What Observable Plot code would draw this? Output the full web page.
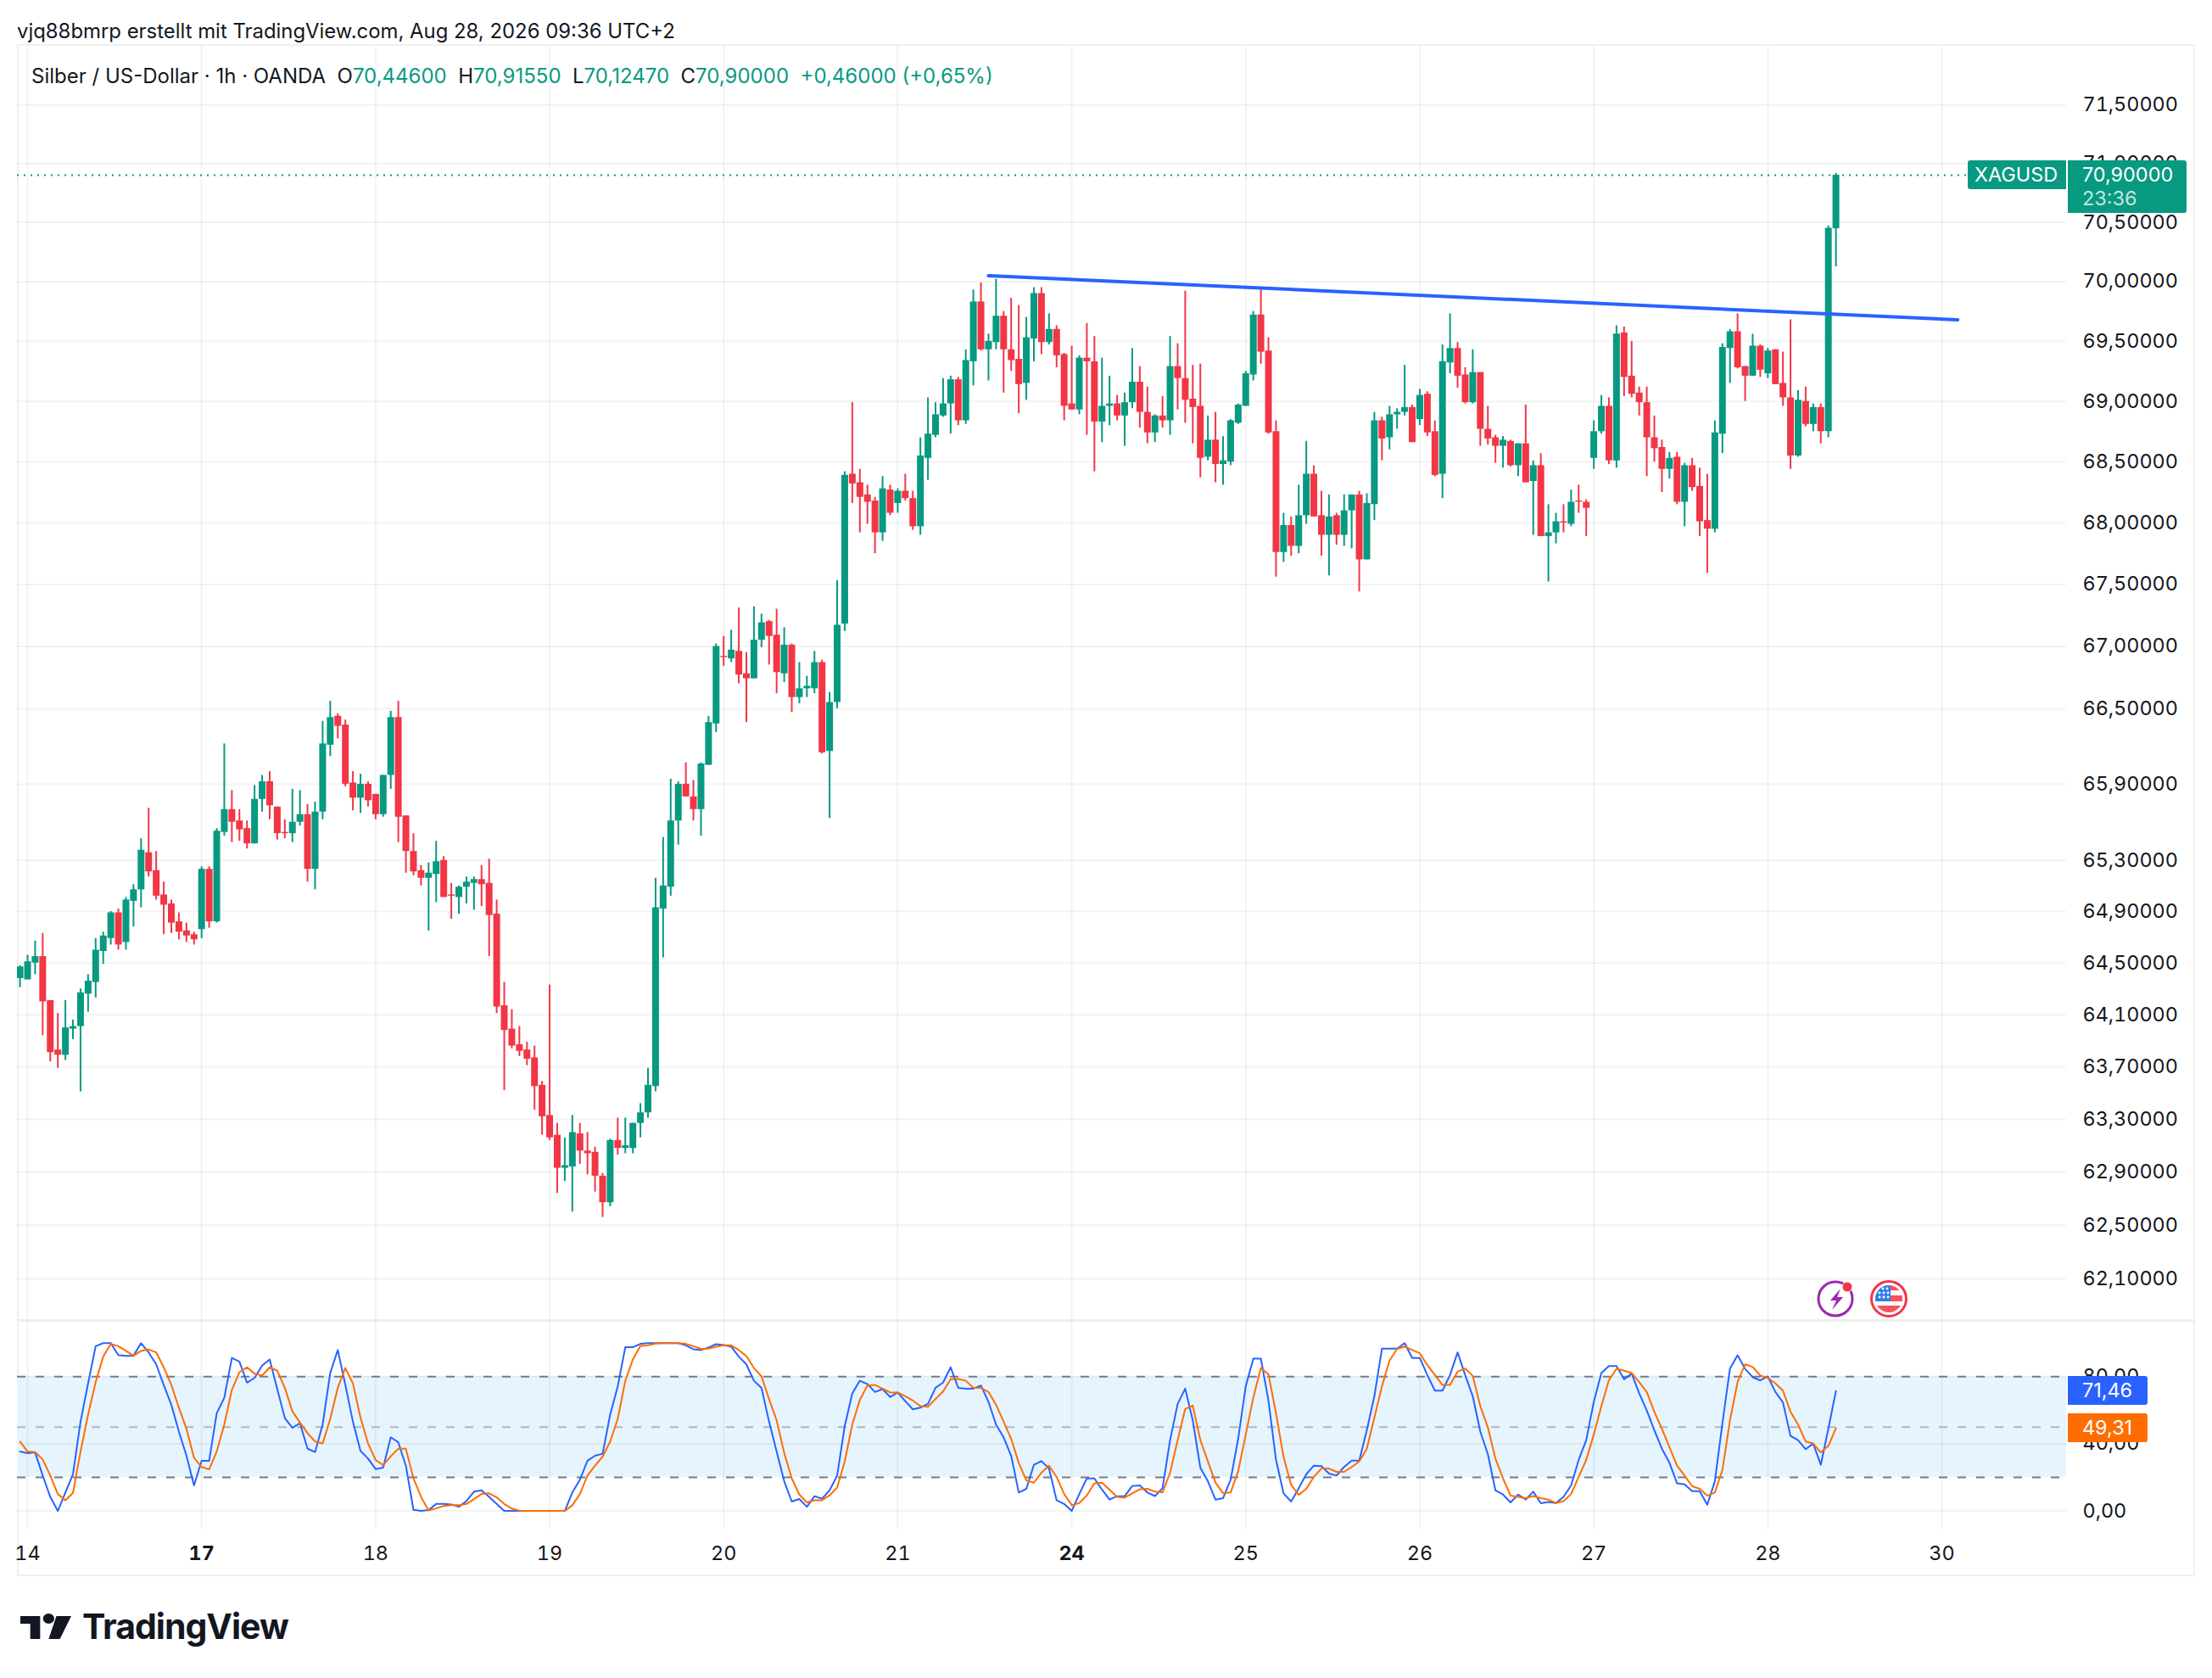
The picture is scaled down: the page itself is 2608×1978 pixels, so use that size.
<!DOCTYPE html>
<html><head><meta charset="utf-8">
<script src="https://cdn.jsdelivr.net/npm/d3@7"></script>
<script src="https://cdn.jsdelivr.net/npm/@observablehq/plot@0.6"></script>
<style>
html,body{margin:0;padding:0;background:#fff;}
#root{position:relative;width:2608px;height:1978px;overflow:hidden;font-family:Inter,"Noto Sans",sans-serif;color:#131722;}
#root>*{position:absolute;}
.t{white-space:pre;line-height:1;}
.g{color:#089981;}
.tag{display:flex;flex-direction:column;justify-content:center;box-sizing:border-box;color:#fff;font-size:23.4px;}
</style></head><body><div id="root"></div>
<script>
const opens=[64.38,64.37,64.50,64.55,64.21,63.83,63.79,63.99,64.01,64.26,
64.35,64.59,64.69,64.89,64.66,64.98,65.07,65.36,65.22,65.03,
64.96,64.82,64.75,64.72,64.76,65.23,64.82,65.52,65.70,65.61,
65.55,65.43,65.78,65.92,65.72,65.52,65.51,65.60,65.66,65.23,
65.68,66.21,66.44,66.37,65.91,65.79,65.90,65.82,65.66,65.97,
66.43,65.65,65.37,65.22,65.16,65.19,65.30,65.03,65.01,65.09,
65.12,65.15,65.12,64.88,64.17,63.99,63.87,63.83,63.77,63.56,
63.33,63.18,62.93,62.94,63.19,63.06,63.05,62.87,62.67,63.14,
63.08,63.08,63.27,63.35,63.55,64.92,65.09,65.61,65.90,65.80,
65.70,66.05,66.38,66.92,66.90,66.96,66.78,66.74,67.05,67.20,
67.09,66.78,67.01,66.59,66.66,66.66,66.87,66.16,66.55,67.18,
68.40,68.33,68.23,68.18,67.92,68.27,68.16,68.26,68.20,67.97,
68.53,68.72,68.88,68.98,69.18,68.84,69.33,69.83,69.43,69.49,
69.71,69.43,69.35,69.15,69.52,69.90,69.49,69.60,69.39,68.98,
68.93,69.36,69.33,68.83,68.96,68.98,68.88,68.99,69.16,68.91,
68.74,68.88,68.84,69.29,69.19,69.02,68.96,68.54,68.68,68.48,
68.50,68.82,68.96,69.22,69.72,69.42,68.75,67.76,67.98,67.81,
68.06,68.40,68.06,67.90,68.06,67.90,68.10,68.23,67.70,68.15,
68.84,68.70,68.89,68.91,68.95,68.85,69.06,68.75,68.40,69.32,
69.44,69.22,68.99,69.24,68.77,68.70,68.63,68.67,68.47,68.65,
68.34,68.47,67.89,67.92,68.01,67.99,68.18,68.17,68.53,68.75,
68.96,68.51,69.57,69.21,69.07,68.99,68.70,68.62,68.44,68.54,
68.17,68.47,68.30,68.02,67.95,68.73,69.44,69.58,69.29,69.21,
69.46,69.23,69.43,69.15,69.03,68.55,69.00,68.81,68.95,68.75,
70.446];
const highs=[64.48,64.56,64.67,64.73,64.21,64.11,64.21,64.06,64.30,64.41,
64.69,64.74,64.90,64.92,65.01,65.11,65.47,65.71,65.37,65.13,
64.99,64.89,64.81,64.74,65.25,65.25,65.55,66.22,65.85,65.70,
65.61,65.89,65.97,66.00,65.72,65.62,65.86,65.85,65.74,65.76,
66.40,66.56,66.46,66.41,66.00,65.98,65.92,65.82,65.97,66.48,
66.56,65.65,65.51,65.26,65.28,65.45,65.33,65.12,65.10,65.17,
65.17,65.26,65.31,64.99,64.35,64.14,64.01,63.89,63.86,63.59,
64.33,63.27,63.16,63.33,63.27,63.20,63.09,62.89,63.15,63.31,
63.31,63.27,63.42,63.69,65.16,65.48,65.94,65.92,66.07,65.93,
66.07,66.44,67.02,67.08,67.13,67.31,66.95,67.32,67.26,67.21,
67.30,67.15,67.02,66.87,66.76,66.96,66.89,66.63,67.53,68.42,
68.99,68.44,68.31,68.21,68.38,68.31,68.28,68.40,68.26,68.70,
69.03,68.99,69.19,69.21,69.20,69.43,69.93,69.99,69.56,70.02,
69.75,69.86,69.80,69.70,69.95,69.95,69.73,69.63,69.40,69.46,
69.38,69.65,69.54,69.36,69.21,69.05,69.07,69.44,69.29,69.12,
68.89,69.04,69.54,69.48,69.92,69.30,69.31,68.88,68.91,68.71,
68.85,68.98,69.25,69.75,69.95,69.53,68.84,68.08,68.05,68.31,
68.67,68.47,68.26,68.23,68.08,68.23,68.23,68.26,68.24,68.91,
68.87,68.96,68.94,69.30,68.97,69.10,69.08,68.84,69.47,69.73,
69.49,69.28,69.43,69.24,68.96,68.72,68.71,68.68,68.65,68.97,
68.51,68.57,68.15,68.08,68.15,68.27,68.31,68.19,68.84,69.05,
69.03,69.63,69.62,69.50,69.12,69.12,68.88,68.68,68.58,68.58,
68.49,68.53,68.45,68.40,68.84,69.48,69.60,69.73,69.29,69.56,
69.47,69.44,69.43,69.41,69.68,69.09,69.12,68.98,68.98,70.47,
70.9155];
const lows=[64.31,64.37,64.41,63.94,63.74,63.69,63.75,63.91,63.51,64.12,
64.23,64.49,64.64,64.60,64.60,64.78,64.93,65.17,64.99,64.72,
64.73,64.68,64.66,64.64,64.69,64.77,64.81,65.49,65.44,65.45,
65.39,65.43,65.68,65.62,65.46,65.47,65.44,65.57,65.13,65.07,
65.62,66.12,66.26,65.88,65.69,65.67,65.72,65.62,65.64,65.86,
65.44,65.20,65.18,65.10,64.75,64.97,65.01,64.84,64.88,64.96,
64.91,64.94,64.55,64.11,63.52,63.84,63.78,63.71,63.37,63.18,
63.14,62.74,62.83,62.60,62.96,62.88,62.75,62.56,62.64,63.03,
63.04,63.04,63.16,63.31,63.51,64.54,65.02,65.42,65.80,65.61,
65.49,66.05,66.31,66.84,66.87,66.70,66.39,66.74,66.99,66.85,
66.62,66.71,66.47,66.54,66.59,66.62,66.14,65.63,66.50,67.12,
68.16,67.92,67.99,67.75,67.85,68.06,68.08,68.18,67.94,67.90,
68.35,68.70,68.87,68.73,68.80,68.81,69.13,69.42,69.17,69.43,
69.07,69.25,68.90,69.01,69.33,69.39,69.47,69.28,68.84,68.93,
68.89,68.72,68.42,68.66,68.80,68.84,68.63,68.94,68.78,68.65,
68.66,68.78,68.72,68.93,68.82,68.65,68.37,68.51,68.33,68.31,
68.47,68.81,68.96,69.17,69.31,68.73,67.56,67.68,67.73,67.75,
67.99,68.05,67.73,67.57,67.82,67.81,67.79,67.44,67.70,68.02,
68.51,68.60,68.77,68.88,68.66,68.80,68.71,68.38,68.20,69.23,
69.11,68.98,68.98,68.63,68.64,68.49,68.45,68.46,68.38,68.33,
67.90,67.89,67.52,67.83,67.92,67.97,68.08,67.89,68.44,68.73,
68.48,68.45,69.04,69.03,68.88,68.38,68.50,68.25,68.36,68.15,
67.97,68.26,67.89,67.59,67.92,68.57,69.15,69.27,69.00,69.21,
69.20,69.19,69.14,68.96,68.44,68.54,68.79,68.75,68.65,68.70,
70.1247];
const closes=[64.47,64.51,64.55,64.20,63.81,63.79,64.00,64.01,64.27,64.36,
64.60,64.71,64.89,64.64,64.99,65.07,65.38,65.21,65.02,64.95,
64.81,64.74,64.71,64.68,65.23,64.82,65.53,65.70,65.60,65.54,
65.43,65.78,65.92,65.73,65.51,65.51,65.60,65.66,65.23,65.68,
66.22,66.43,66.36,65.90,65.79,65.90,65.77,65.66,65.97,66.43,
65.64,65.37,65.21,65.16,65.20,65.29,65.01,65.02,65.09,65.13,
65.15,65.11,64.87,64.16,63.98,63.86,63.82,63.76,63.55,63.32,
63.16,62.93,62.95,63.20,63.06,63.04,62.87,62.67,63.14,63.08,
63.10,63.27,63.35,63.56,64.93,65.10,65.61,65.90,65.80,65.70,
66.06,66.39,67.00,66.91,66.97,66.77,66.74,67.05,67.19,67.08,
66.79,67.01,66.59,66.66,66.68,66.87,66.15,66.55,67.17,68.39,
68.32,68.21,68.17,67.92,68.28,68.08,68.26,68.20,67.97,68.55,
68.73,68.89,68.98,69.18,68.84,69.34,69.83,69.43,69.50,69.71,
69.43,69.34,69.14,69.53,69.90,69.49,69.60,69.38,68.96,68.93,
69.36,69.33,68.83,68.96,68.98,68.88,68.99,69.16,68.91,68.74,
68.88,68.84,69.29,69.19,69.01,68.95,68.53,68.68,68.48,68.51,
68.84,68.97,69.23,69.72,69.41,68.74,67.76,67.98,67.81,68.06,
68.40,68.05,67.90,68.05,67.90,68.10,68.23,67.70,68.16,68.84,
68.69,68.89,68.91,68.95,68.66,69.05,68.74,68.39,69.33,69.44,
69.21,68.99,69.24,68.77,68.69,68.63,68.68,68.47,68.65,68.33,
68.47,67.89,67.92,68.01,68.00,68.17,68.17,68.12,68.75,68.96,
68.51,69.56,69.20,69.06,68.99,68.70,68.61,68.44,68.53,68.17,
68.47,68.29,68.01,67.95,68.74,69.45,69.58,69.28,69.21,69.46,
69.26,69.42,69.14,69.03,68.55,69.01,68.81,68.95,68.75,70.45,
70.90];
const stochK=[35.4,34.4,34.9,21.1,8.4,0,11,21.9,53.2,76,
98.2,100,100,92.8,92.5,92.5,100,94.5,87.4,75.1,
63.3,47.3,32.9,15.2,29.9,29.9,58.2,67.5,91.2,89,
76.5,79.3,86.6,90.3,72.6,55.4,49.5,52.3,37.1,35.1,
51.5,82.2,95.9,75.1,53.2,35.8,31.2,25,25.8,43.9,
40.9,27,0.7,0,0.5,4.2,4.2,3.9,2.5,5.9,
11.5,12.3,8.4,4.2,0,0,0,0,0,0,
0,0,0,11,18.6,29.9,32.9,34.1,57.4,74.3,
97.6,97.6,99.6,100,100,100,100,100,98.7,96.4,
95.9,97.4,99.4,98.9,97.9,92,87.4,77.6,73.4,53.2,
35.4,17.7,5.6,7.1,2.5,8.8,7.3,12.3,21.1,50.6,
70.1,77.6,75.6,70.9,72.6,67.9,70.6,65.5,60.6,61.6,
63.8,73.4,76.5,85.6,73.4,72.9,72.9,74.8,65,51.5,
43.9,32.9,11,13.2,27.5,29.7,25.3,6.4,4.2,0,
10.1,19.4,19.4,12.7,6.8,8.8,8.8,14.9,15.2,11,
8.9,13.5,42.2,63.8,72.9,54,25.7,17.7,6.8,7.6,
18.6,43,74.3,90.8,90.8,65.8,30.4,10.5,5.6,13.5,
21.9,27,26.7,22.3,21.1,26.2,30,30,48.1,68.4,
96.7,96.7,96.7,100,91.2,91.2,81,71.7,71.7,81,
94.5,81,68.4,47.3,33.8,12.3,9.8,5.1,9.8,6.8,
11.5,4.6,5.4,4.7,8.4,15.2,30.4,42.2,65,82.2,
86.4,86.4,78.5,81.9,70.1,59.9,48.1,37.1,28.7,16.5,
15.9,11.8,11.8,3.7,17.7,52.3,84.9,92.8,84.7,79.7,
77.8,80.2,70.9,64.7,44.7,42.2,36.8,40.2,27.5,49,
71.46];
const stochD=[41.4,35.4,35.1,30.7,21.1,10.1,6.4,10.8,35.4,57.4,
76.8,92,99.6,98.2,95.4,92.5,95.4,96.2,94.5,85.6,
75.1,61.6,49,31.7,26.2,24.8,35.4,51.5,72.2,82.7,
85.6,81.9,80.7,85.6,83.6,73.4,59.4,52.7,46.4,41.4,
40.2,54.9,73.4,85.2,76,55.7,40.2,30.4,27.3,32.6,
37.1,37.1,19.4,8.4,0.3,1.5,3,3.5,3.4,4.2,
7.1,10.1,10.5,8.1,4.2,1.4,0.2,0,0,0,
0,0,0,3.4,10.1,21.1,27,32.4,41.4,54.9,
77.6,90.3,98.4,98.7,99.8,100,100,100,99.6,98.2,
96.6,96.7,97.9,98.7,98.7,95.9,92.3,85.2,80.2,66.7,
54,34.6,19.4,9.8,5.1,6.4,6.4,9.3,14,29.5,
51.5,66.2,74.8,75.1,72.9,70.6,70.6,68.4,65.8,62.5,
62.1,66.7,71.2,78.5,78.7,77.6,73.4,73.4,70.9,63.3,
53.2,43,28.7,18.2,16.9,22.8,27,20.3,10.1,3.5,
4.7,9.3,16.5,16.9,12.7,8.4,7.9,10.5,13,13.2,
11.5,11,22.8,42.2,60.8,62.8,42.2,29.5,16.9,10.6,
11,23.6,45.6,67.5,85.2,81.5,58.2,32.1,15.5,9.6,
13.2,20.3,25.3,25.3,23.3,23.3,26.2,29.5,37.1,55.7,
74.3,89.5,96.6,97.9,95.9,94,86.9,81,75.1,75.1,
83,84.9,80.5,62.5,49.8,31.2,19.4,9.1,8.4,7.6,
8.9,7.6,6.8,4.7,5.9,10.1,20.3,30.4,45.6,62.5,
78,84.7,83.6,82.2,76.8,70.9,59.1,49,38,27,
21.1,14.7,13.2,9.1,11,24.5,54,76.8,87.4,85.8,
80.7,79.3,76,71.7,59.1,51.5,41.4,40.2,34.9,38.8,
49.31];
const priceTicks=[71.5,71,70.5,70,69.5,69,68.5,68,67.5,67,66.5,65.9,65.3,64.9,64.5,64.1,63.7,63.3,62.9,62.5,62.1];
const oscTicks=[0,40,80];
const dayBars=[1,24,47,70,93,116,139,162,185,208,231,254];
const dayNames=["14","17","18","19","20","21","24","25","26","27","28","30"];
const boldDays=["17","24"];
const trendBars=[128,256.1], trendPrices=[70.05,69.68];
const lastPrice=70.9;
const oscBands=[20,50,80];

const UP="#089981",DOWN="#f23645",INK="#131722",GRID="#2a2e39";
const FONT='Inter,"Noto Sans",sans-serif';
const bars=opens.map((o,i)=>({i,o,h:highs[i],l:lows[i],c:closes[i],col:closes[i]>=o?UP:DOWN}));
const osc=stochK.map((k,i)=>({i,k,d:stochD[i]}));
const trend=trendBars.map((b,i)=>({b,p:trendPrices[i]}));
const xDomain=[-0.345,270.48];
const comma=(v,n)=>v.toFixed(n).replace(".",",");
const dayLabel=b=>dayNames[dayBars.indexOf(b)];
const root=document.getElementById("root");

function add(html,css){const e=document.createElement("div");e.className="t";e.innerHTML=html;e.style.cssText=css;root.appendChild(e);return e;}
function place(node,top){node.style.position="absolute";node.style.left="0";node.style.top=top+"px";root.appendChild(node);}

// frame
add("","left:20px;top:52px;width:2568px;height:1806px;box-sizing:border-box;border:2px solid #f0f0f0;");
add("","left:20px;top:1555px;width:2568px;height:3px;background:#eeeeee;");

const main=Plot.plot({
  width:2608,height:1502,marginLeft:20,marginRight:172,marginTop:0,marginBottom:0,
  style:{background:"transparent",fontFamily:FONT,overflow:"visible"},
  x:{domain:xDomain,axis:null},
  y:{type:"log",domain:[61.79,72.007],axis:null},
  marks:[
    Plot.gridY(priceTicks,{stroke:GRID,strokeOpacity:0.06,strokeWidth:2}),
    Plot.gridX(dayBars,{stroke:GRID,strokeOpacity:0.06,strokeWidth:2}),
    Plot.ruleY([lastPrice],{stroke:UP,strokeWidth:2,strokeDasharray:"2 6"}),
    Plot.ruleX(bars,{x:"i",y1:"l",y2:"h",stroke:"col",strokeWidth:2,clip:true}),
    Plot.ruleX(bars,{x:"i",y1:"o",y2:"c",stroke:"col",strokeWidth:8,clip:true}),
    Plot.line(trend,{x:"b",y:"p",stroke:"#2962ff",strokeWidth:4}),
    Plot.axisY({anchor:"right",ticks:priceTicks,tickSize:0,tickPadding:19,label:null,
      tickFormat:v=>comma(v,5),fontSize:23.4,fill:INK})
  ]
});
place(main,54);

const lower=Plot.plot({
  width:2608,height:302,marginLeft:20,marginRight:172,marginTop:0,marginBottom:56,
  style:{background:"transparent",fontFamily:FONT,overflow:"visible"},
  x:{domain:xDomain,axis:null},
  y:{domain:[-10.82,113.55],axis:null},
  marks:[
    Plot.rectY([0],{x1:xDomain[0],x2:xDomain[1],y1:oscBands[0],y2:oscBands[2],fill:"#e6f4fe"}),
    Plot.gridY(oscTicks,{stroke:GRID,strokeOpacity:0.06,strokeWidth:2}),
    Plot.gridX(dayBars,{stroke:GRID,strokeOpacity:0.06,strokeWidth:2}),
    Plot.ruleY([oscBands[0],oscBands[2]],{stroke:"#787b86",strokeWidth:2,strokeDasharray:"10 12"}),
    Plot.ruleY([oscBands[1]],{stroke:"#b2b5be",strokeWidth:2,strokeDasharray:"10 12"}),
    Plot.line(osc,{x:"i",y:"k",stroke:"#2962ff",strokeWidth:2,clip:true}),
    Plot.line(osc,{x:"i",y:"d",stroke:"#ff6d00",strokeWidth:2,clip:true}),
    Plot.axisY({anchor:"right",ticks:oscTicks,tickSize:0,tickPadding:19,label:null,
      tickFormat:v=>comma(v,2),fontSize:23.4,fill:INK}),
    Plot.axisX({anchor:"bottom",ticks:dayBars.filter(b=>!boldDays.includes(dayLabel(b))),tickSize:0,tickPadding:20,label:null,
      tickFormat:dayLabel,fontSize:23.4,fill:INK}),
    Plot.axisX({anchor:"bottom",ticks:dayBars.filter(b=>boldDays.includes(dayLabel(b))),tickSize:0,tickPadding:20,label:null,
      tickFormat:dayLabel,fontSize:23.4,fontWeight:700,fill:INK})
  ]
});
place(lower,1556);

// header and legend
add("vjq88bmrp erstellt mit TradingView.com, Aug 28, 2026 09:36 UTC+2","left:20px;top:25px;font-size:23.9px;");
add('Silber / US-Dollar · 1h · OANDA  O<span class="g">70,44600</span>  H<span class="g">70,91550</span>  L<span class="g">70,12470</span>  C<span class="g">70,90000</span>  <span class="g">+0,46000 (+0,65%)</span>',"left:37px;top:78px;font-size:24px;");

// price tags
const tag=(html,css)=>{const e=add(html,css);e.classList.add("tag");return e;};
tag("XAGUSD",`left:2320px;top:189px;width:116px;height:34px;background:${UP};border-radius:3px 0 0 3px;padding-left:8px;`);
tag('<div style="line-height:28px">70,90000</div><div style="line-height:28px;color:#c3e6df">23:36</div>',`left:2438px;top:189px;width:140px;height:62px;background:${UP};border-radius:0 3px 3px 0;padding-left:17px;`);
tag("71,46","left:2438px;top:1622px;width:94px;height:34px;background:#2962ff;border-radius:0 3px 3px 0;padding-left:17px;");
tag("49,31","left:2438px;top:1666px;width:94px;height:34px;background:#ff6d00;border-radius:0 3px 3px 0;padding-left:17px;");

// event icons
add(`<svg width="120" height="60" viewBox="0 0 120 60" style="display:block">
<circle cx="30" cy="30" r="20" fill="#fff" stroke="#9c27b0" stroke-width="3"/>
<path d="M36 18 L24 32 H31 L26 43 L39 28 H32 Z" fill="#9c27b0"/>
<circle cx="44" cy="16" r="6" fill="#f23645" stroke="#fff" stroke-width="1"/>
<circle cx="93" cy="30" r="20.5" fill="#fff" stroke="#f23645" stroke-width="3"/>
<clipPath id="fc"><circle cx="93" cy="30" r="16"/></clipPath>
<g clip-path="url(#fc)">
<rect x="76" y="14" width="36" height="6" fill="#f7525f"/><rect x="76" y="26" width="36" height="7" fill="#f7525f"/>
<rect x="76" y="38" width="36" height="9" fill="#f7525f"/>
<rect x="76" y="14" width="19" height="19" fill="#2f80ed"/>
<g fill="#fff"><circle cx="86" cy="18" r="1.4"/><circle cx="91" cy="18" r="1.4"/><circle cx="82" cy="23" r="1.4"/><circle cx="87" cy="23" r="1.4"/><circle cx="92" cy="23" r="1.4"/><circle cx="82" cy="28" r="1.4"/><circle cx="87" cy="28" r="1.4"/><circle cx="92" cy="28" r="1.4"/></g>
</g></svg>`,"left:2134px;top:1501px;");

// logo
add(`<svg width="60" height="30" viewBox="0 4 36 20" preserveAspectRatio="none" style="display:block"><path d="M14 6H0v6h7v12h7V6zm14 18h-8l5.5-18H36l-8 18z" fill="#131722"/><circle cx="20" cy="8" r="4" fill="#131722"/></svg>`,"left:24px;top:1902px;");
add("TradingView","left:97px;top:1897px;font-size:41px;font-weight:700;letter-spacing:-1px;");
</script></body></html>
